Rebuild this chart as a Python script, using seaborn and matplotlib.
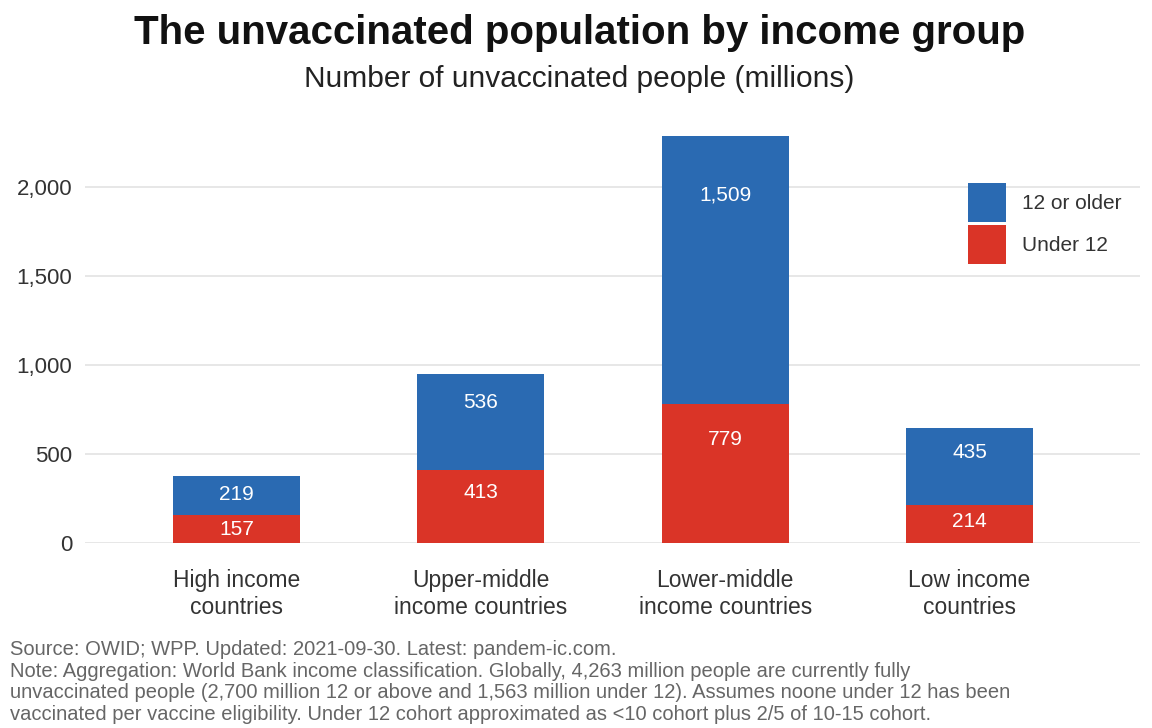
import matplotlib
matplotlib.use("Agg")
import matplotlib.pyplot as plt
import seaborn as sns
import pandas as pd
from matplotlib.patches import Patch

categories = ["High income\ncountries", "Upper-middle\nincome countries",
              "Lower-middle\nincome countries", "Low income\ncountries"]
under12 = [157, 413, 779, 214]
older12 = [219, 536, 1509, 435]
series_names = ["12 or older", "Under 12"]
yticks = [0, 500, 1000, 1500, 2000]

BLUE = "#2a6ab2"
RED = "#da3427"

sns.set_theme(style="white")
plt.rcParams["font.family"] = ["Liberation Sans", "DejaVu Sans"]

df = pd.DataFrame({"cat": categories, "under12": under12, "older12": older12})
df["total"] = df["under12"] + df["older12"]

fig = plt.figure(figsize=(11.52, 7.28), dpi=100)
ax = fig.add_axes([0.074, 0.254, 0.916, 0.5625])

sns.barplot(data=df, x="cat", y="total", color=BLUE, width=0.52, saturation=1,
            linewidth=0, ax=ax, zorder=2)
sns.barplot(data=df, x="cat", y="under12", color=RED, width=0.52, saturation=1,
            linewidth=0, ax=ax, zorder=3)

for i, row in df.iterrows():
    top_b = row["total"]
    ax.annotate(f"{row['older12']:,}", xy=(i, top_b - 0.18 * row["older12"]),
                xytext=(0, -8), textcoords="offset points",
                ha="center", va="center", color="white", fontsize=15, zorder=5)
    top_r = row["under12"]
    ax.annotate(f"{row['under12']:,}", xy=(i, top_r - 0.18 * row["under12"]),
                xytext=(0, -7), textcoords="offset points",
                ha="center", va="center", color="white", fontsize=15, zorder=5)

ax.set_ylim(0, 2300)
ax.set_xlim(-0.62, 3.7)
ax.set_yticks(yticks)
ax.set_yticklabels([f"{v:,}" for v in yticks])
ax.yaxis.grid(True, color="#e3e3e3", linewidth=1.2, zorder=0)
ax.set_axisbelow(True)
for s in ax.spines.values():
    s.set_visible(False)
ax.tick_params(axis="y", length=0, pad=9.5, labelsize=16, labelcolor="#333333")
ax.tick_params(axis="x", length=0, pad=19, labelsize=16.5, labelcolor="#333333")
for lbl in ax.get_xticklabels():
    lbl.set_linespacing(1.2)
ax.set_xlabel("")
ax.set_ylabel("")

handles = [Patch(facecolor=BLUE, edgecolor="none"), Patch(facecolor=RED, edgecolor="none")]
leg = ax.legend(handles, series_names, loc="upper left",
                bbox_to_anchor=(968 / 1152, 1 - 183 / 728),
                bbox_transform=fig.transFigure, frameon=False, fontsize=15,
                handlelength=1.83, handleheight=2.51, labelspacing=0.14,
                handletextpad=0.75, borderaxespad=0, borderpad=0)
for t in leg.get_texts():
    t.set_color("#333333")

fig.text(0.503, 1 - 33 / 728, "The unvaccinated population by income group",
         ha="center", va="center", fontsize=29, fontweight="bold", color="#111111")
fig.text(0.503, 1 - 79 / 728, "Number of unvaccinated people (millions)",
         ha="center", va="center", fontsize=21.5, color="#222222")

footer = ("Source: OWID; WPP. Updated: 2021-09-30. Latest: pandem-ic.com.\n"
          "Note: Aggregation: World Bank income classification. Globally, 4,263 million people are currently fully\n"
          "unvaccinated people (2,700 million 12 or above and 1,563 million under 12). Assumes noone under 12 has been\n"
          "vaccinated per vaccine eligibility. Under 12 cohort approximated as <10 cohort plus 2/5 of 10-15 cohort.")
fig.text(10 / 1152, 1 - 640 / 728, footer, ha="left", va="top", fontsize=14.5,
         color="#666666", linespacing=1.18)

fig.savefig("out.png", dpi=100, facecolor="white")
